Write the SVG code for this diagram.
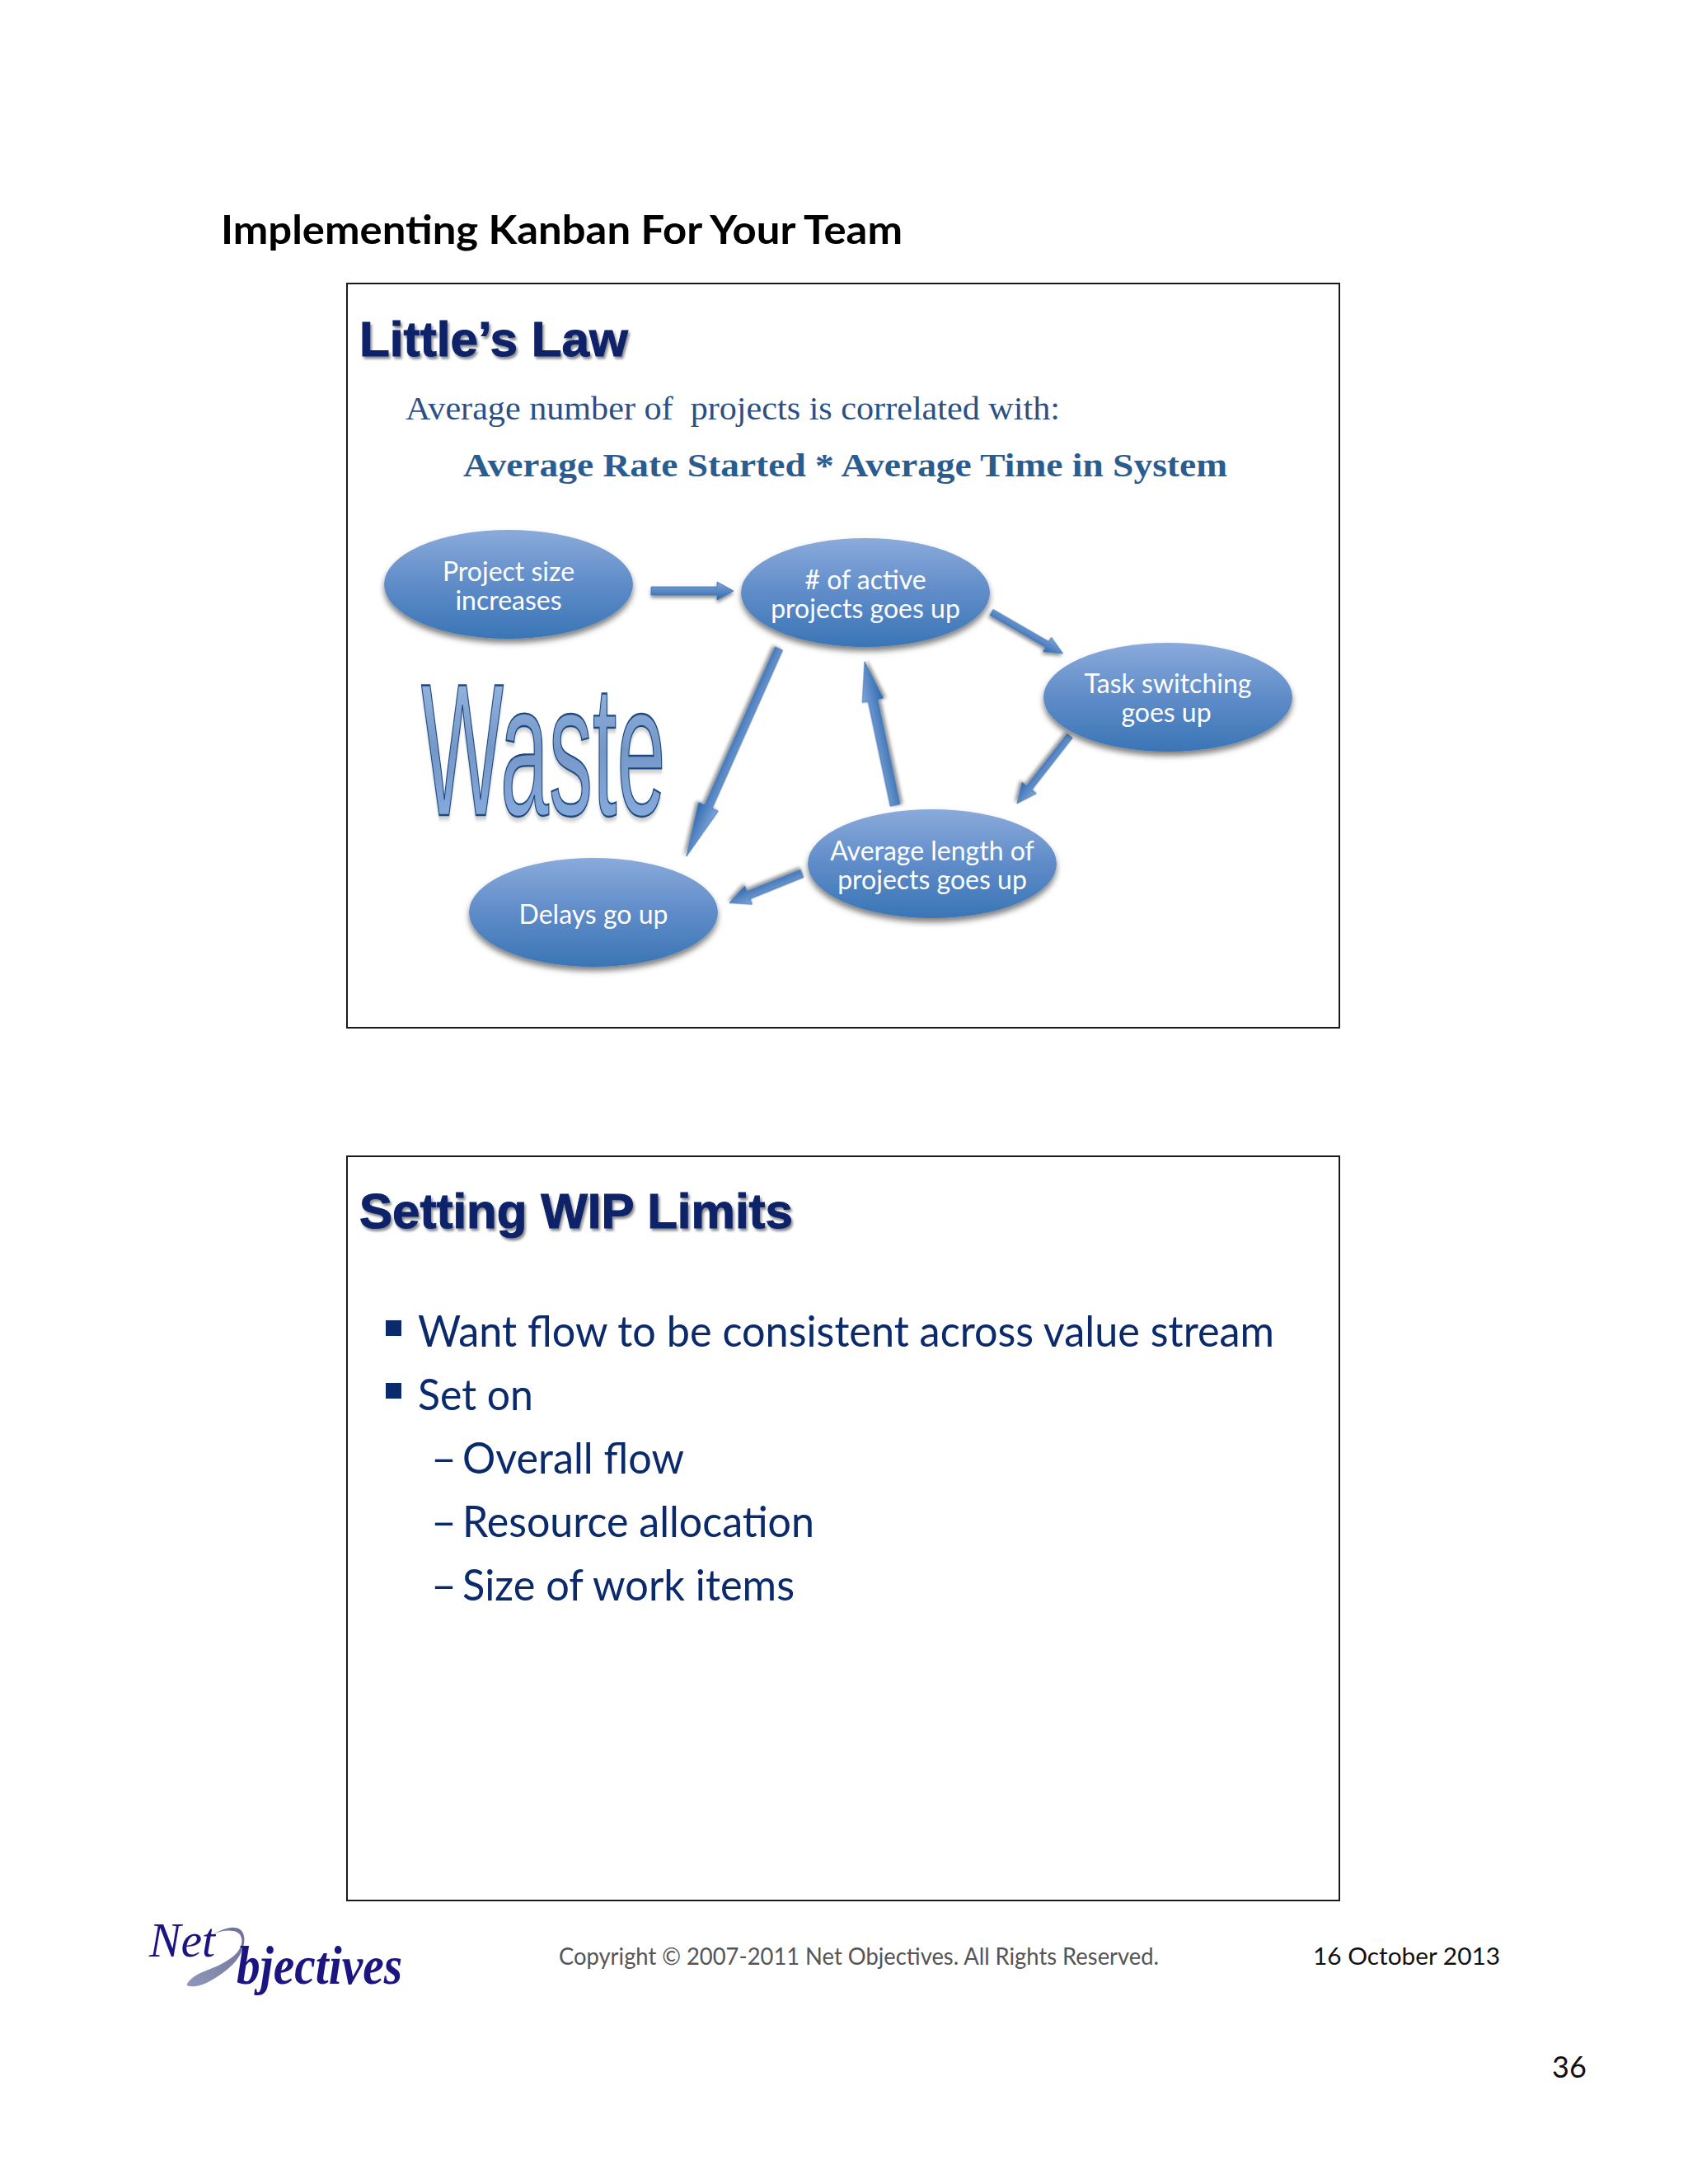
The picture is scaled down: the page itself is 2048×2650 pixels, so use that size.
<svg xmlns="http://www.w3.org/2000/svg" width="2048" height="2650" viewBox="0 0 2048 2650">
<style>
.box{fill:#fff;stroke:#1a1a1a;stroke-width:2}
.title{font-family:"Liberation Sans",Arial,sans-serif;font-weight:700;font-size:60px;fill:#0c2468;stroke:#0c2468;stroke-width:1;filter:url(#ts)}
.node{fill:url(#ng);filter:url(#ns)}
.nt{font-family:"Lato","Noto Sans",sans-serif;font-size:32px;fill:#fff;text-anchor:middle}
.arrow{fill:url(#ag);stroke:#3d72b4;stroke-width:.8;filter:url(#as)}
.body{font-family:"Lato","Noto Sans",sans-serif;font-size:52px;fill:#0a2a6c}
.foot{font-family:"Lato","Noto Sans",sans-serif;font-size:28px}
.logo{font-family:"Liberation Serif",serif;font-style:italic;font-weight:700;fill:#1c1480}
</style>
<defs>
<linearGradient id="ng" x1="0" y1="0" x2="0" y2="1"><stop offset="0" stop-color="#8aaadb"/><stop offset=".5" stop-color="#5f8cc8"/><stop offset="1" stop-color="#3a75b6"/></linearGradient>
<linearGradient id="ag" x1="0" y1="0" x2="0" y2="1"><stop offset="0" stop-color="#80a6da"/><stop offset="1" stop-color="#3069ae"/></linearGradient>
<linearGradient id="wg" x1="0" y1="0" x2="0" y2="1"><stop offset="0" stop-color="#a5c2ea"/><stop offset=".5" stop-color="#7598c8"/><stop offset="1" stop-color="#8db3e6"/></linearGradient>
<linearGradient id="sw" x1="0" y1="1" x2="1" y2="0"><stop offset="0" stop-color="#9098bc"/><stop offset="1" stop-color="#6c7098"/></linearGradient>
<filter id="ts" x="-5%" y="-20%" width="110%" height="140%"><feDropShadow dx="2" dy="3" stdDeviation="1.5" flood-color="#000" flood-opacity=".45"/></filter>
<filter id="ws" x="-5%" y="-10%" width="110%" height="120%"><feDropShadow dx="0" dy="2" stdDeviation="1" flood-color="#000" flood-opacity=".2"/></filter>
<filter id="ns" x="-10%" y="-10%" width="120%" height="130%"><feDropShadow dx="0" dy="5" stdDeviation="3.5" flood-color="#000" flood-opacity=".5"/></filter>
<filter id="as" x="-20%" y="-40%" width="140%" height="200%"><feDropShadow dx="0" dy="3" stdDeviation="2" flood-color="#000" flood-opacity=".45"/></filter>
</defs>
<rect width="2048" height="2650" fill="#fff"/>
<text id="page-title" x="268" y="296" font-family="Lato,sans-serif" font-weight="700" font-size="47" textLength="827" lengthAdjust="spacingAndGlyphs" fill="#000">Implementing Kanban For Your Team</text>

<g id="slide1"><rect class="box" x="421" y="344" width="1204" height="903"/>
<text class="title" x="436" y="432" textLength="326" lengthAdjust="spacingAndGlyphs">Little’s Law</text>
<text x="492" y="509" font-family="Liberation Serif,serif" font-size="40" fill="#2c5085" textLength="794" lengthAdjust="spacingAndGlyphs" xml:space="preserve">Average number of  projects is correlated with:</text>
<text x="562" y="578" font-family="Liberation Serif,serif" font-weight="700" font-size="41" fill="#2a5d8f" textLength="927" lengthAdjust="spacingAndGlyphs">Average Rate Started * Average Time in System</text>
</g>

<g id="connectors">
<path class="arrow" transform="translate(790 717)" d="M0-5H80V-11L100 0 80 11V5H0Z"/>
<path class="arrow" transform="translate(1203 743) rotate(30)" d="M0-4H78V-10L100 0 78 10V4H0Z"/>
<path class="arrow" transform="translate(1298 893) rotate(128)" d="M0-4H80V-11L104 0 80 11V4H0Z"/>
<path class="arrow" transform="translate(1086 977) rotate(-102)" d="M0-6H130V-13L178 0 130 13V6H0Z"/>
<path class="arrow" transform="translate(945 787) rotate(114)" d="M0-5H210V-13L276 0 210 13V5H0Z"/>
<path class="arrow" transform="translate(973 1060) rotate(158)" d="M0-5H70V-12L95 0 70 12V5H0Z"/>
</g>

<g id="node-project-size"><ellipse class="node" cx="617" cy="709" rx="151" ry="66"/><text class="nt" x="617" y="705">Project size</text><text class="nt" x="617" y="740">increases</text></g>
<g id="node-active"><ellipse class="node" cx="1050" cy="719" rx="151" ry="66"/><text class="nt" x="1050" y="715"># of active</text><text class="nt" x="1050" y="750">projects goes up</text></g>
<g id="node-task"><ellipse class="node" cx="1417" cy="846" rx="151" ry="66"/><text class="nt" x="1417" y="841">Task switching</text><text class="nt" x="1415" y="876">goes up</text></g>
<g id="node-average"><ellipse class="node" cx="1131" cy="1048" rx="151" ry="66"/><text class="nt" x="1131" y="1044">Average length of</text><text class="nt" x="1131" y="1079">projects goes up</text></g>
<g id="node-delays"><ellipse class="node" cx="720" cy="1107" rx="151" ry="66"/><text class="nt" x="720" y="1121">Delays go up</text></g>

<g id="waste"><text transform="translate(511 989) scale(1.06 2.29)" font-family="Liberation Sans,sans-serif" font-size="100" fill="url(#wg)" stroke="#1f4a80" stroke-width="1" filter="url(#ws)">Waste</text></g>

<g id="slide2"><rect class="box" x="421" y="1403" width="1204" height="903"/>
<text class="title" x="436" y="1490" textLength="526" lengthAdjust="spacingAndGlyphs">Setting WIP Limits</text>
<rect x="468" y="1602" width="19" height="19" fill="#0a2a6c"/>
<text class="body" x="507" y="1634" textLength="1039" lengthAdjust="spacingAndGlyphs">Want flow to be consistent across value stream</text>
<rect x="468" y="1678" width="19" height="19" fill="#0a2a6c"/>
<text class="body" x="507" y="1711" textLength="140" lengthAdjust="spacingAndGlyphs">Set on</text>
<text class="body" x="523" y="1788" textLength="31" lengthAdjust="spacingAndGlyphs">–</text><text class="body" x="561" y="1788" textLength="269" lengthAdjust="spacingAndGlyphs">Overall flow</text>
<text class="body" x="523" y="1865" textLength="31" lengthAdjust="spacingAndGlyphs">–</text><text class="body" x="561" y="1865" textLength="427" lengthAdjust="spacingAndGlyphs">Resource allocation</text>
<text class="body" x="523" y="1942" textLength="31" lengthAdjust="spacingAndGlyphs">–</text><text class="body" x="561" y="1942" textLength="403" lengthAdjust="spacingAndGlyphs">Size of work items</text>
</g>

<g id="logo">
<path d="M227 2407C238 2390 262 2392 285 2372C296 2362 297 2345 283 2343C272 2341 262 2345 256 2349C266 2342 282 2335 291 2341C302 2349 295 2372 282 2384C264 2401 243 2412 231 2410C228 2410 226 2409 227 2407Z" fill="url(#sw)"/>
<text x="181" y="2374" font-family="Liberation Serif,serif" font-style="italic" font-size="60" fill="#1c1480" textLength="80" lengthAdjust="spacingAndGlyphs">Net</text>
<text class="logo" x="287" y="2407" font-size="66" textLength="201" lengthAdjust="spacingAndGlyphs">bjectives</text>
</g>
<text class="foot" x="678" y="2384" fill="#555" textLength="728" lengthAdjust="spacingAndGlyphs">Copyright © 2007-2011 Net Objectives. All Rights Reserved.</text>
<text class="foot" x="1593" y="2384" fill="#111" font-size="30" textLength="227" lengthAdjust="spacingAndGlyphs">16 October 2013</text>
<text class="foot" x="1883" y="2521" fill="#111" style="font-size:36px">36</text>
</svg>
